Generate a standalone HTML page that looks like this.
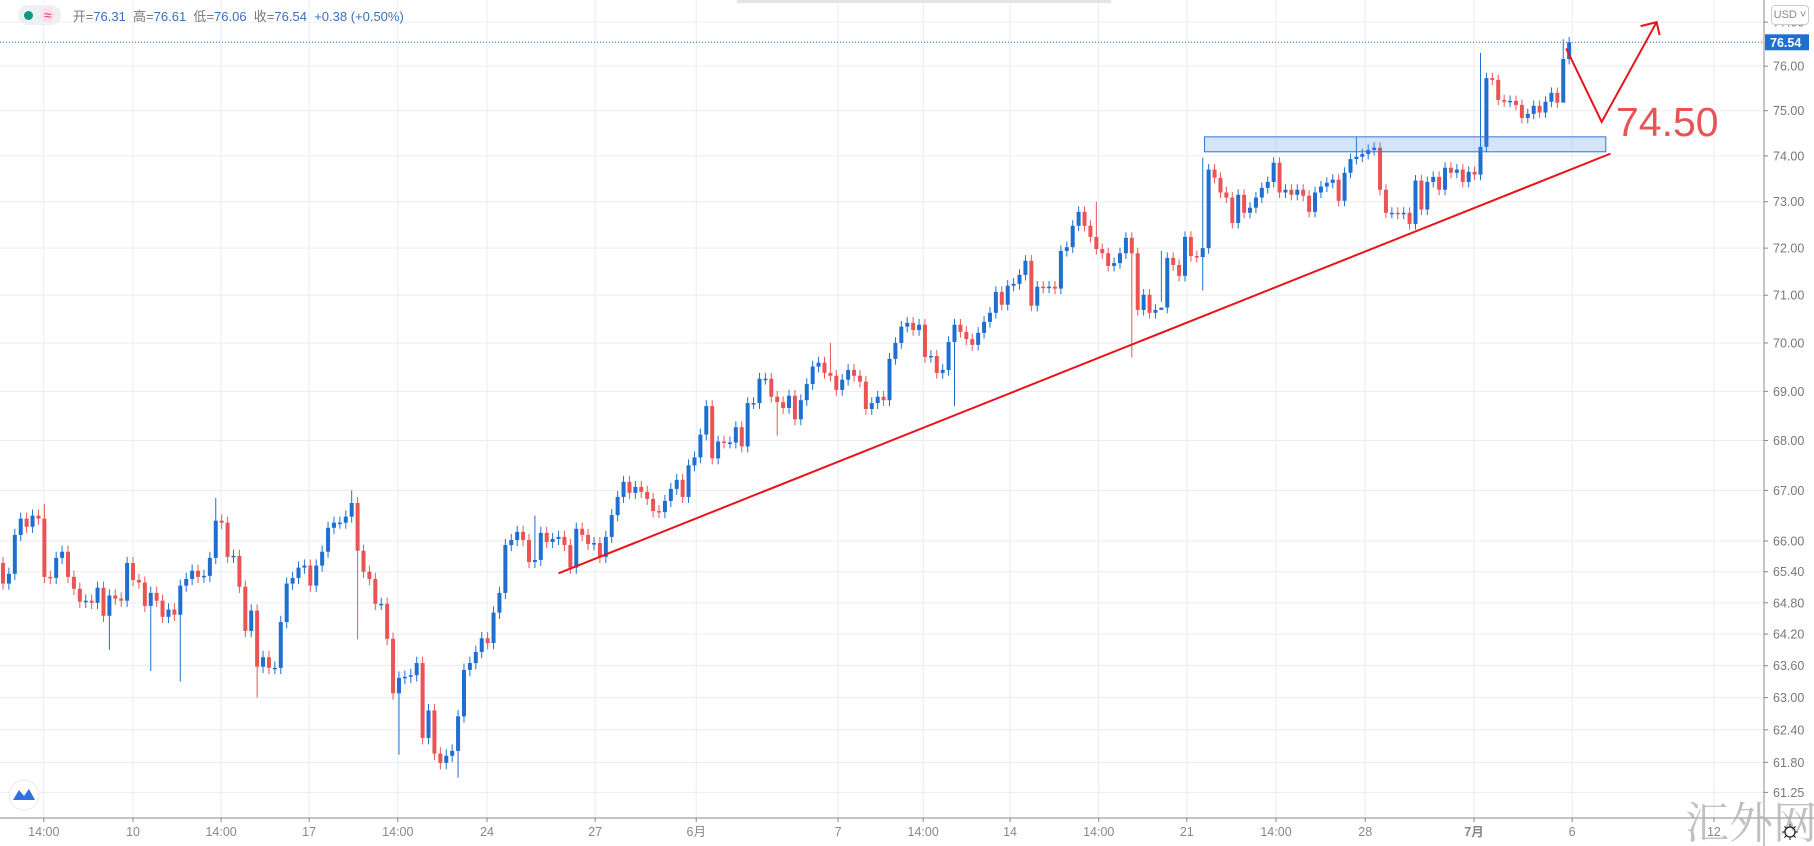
<!DOCTYPE html>
<html><head><meta charset="utf-8"><style>
html,body{margin:0;padding:0;background:#fff;width:1814px;height:846px;overflow:hidden;font-family:"Liberation Sans","Noto Sans CJK SC",sans-serif}
#wrap{position:relative;width:1814px;height:846px}
svg{position:absolute;left:0;top:0}
.hdr{position:absolute;left:18px;top:5px;height:20px;font-size:13px;color:#777;display:flex;align-items:center;white-space:nowrap}
.hdr .v{color:#3a6fb8}
.pill{display:inline-flex;align-items:center;background:#eef1f4;border-radius:10px;height:20px;padding:0 6px;margin-right:12px}
.usd{position:absolute;left:1771px;top:5px;width:36px;height:18px;border:1px solid #ccc;border-radius:4px;background:#fff;font-size:11px;color:#888;text-align:center;line-height:18px}
</style></head><body><div id="wrap">
<svg id="chart" width="1814" height="846"></svg>
<div class="hdr">
<span class="pill"><span style="display:inline-block;width:9px;height:9px;border-radius:50%;background:#089981;margin-right:8px"></span><span style="color:#e0306a;font-size:14px;background:#fde0ea;border-radius:8px;padding:0 3px">≈</span></span>
<span>开=<span class="v">76.31</span>&nbsp; 高=<span class="v">76.61</span>&nbsp; 低=<span class="v">76.06</span>&nbsp; 收=<span class="v">76.54</span>&nbsp; <span class="v">+0.38 (+0.50%)</span></span>
</div>
<div class="usd">USD ˅</div>
</div>
<script>
const closes=[65.17,65.36,66.12,66.44,66.28,66.50,66.44,65.30,65.28,65.67,65.79,65.30,65.07,64.82,64.84,64.80,65.09,64.55,64.94,64.88,64.84,65.57,65.24,65.19,64.74,64.99,64.84,64.53,64.67,64.57,65.13,65.26,65.42,65.30,65.32,65.67,66.40,66.36,65.69,65.71,65.11,64.26,64.65,63.58,63.76,63.56,63.56,64.43,65.17,65.28,65.48,65.52,65.13,65.52,65.79,66.26,66.36,66.36,66.48,66.75,65.81,65.40,65.26,64.78,64.78,64.11,63.08,
63.37,63.39,63.42,63.65,62.25,62.76,61.96,61.79,61.92,62.01,62.65,63.52,63.65,63.86,64.12,64.03,64.61,64.99,65.92,66.02,66.18,66.02,65.59,65.63,66.16,65.98,66.04,66.08,65.92,65.48,66.24,66.12,65.94,65.96,65.69,66.08,66.51,66.87,67.17,66.95,67.07,66.97,66.83,66.59,66.57,66.79,67.03,67.21,
66.87,67.50,67.66,68.12,68.70,67.64,67.98,67.96,67.96,68.27,67.88,68.76,68.76,69.26,69.26,68.89,68.78,68.66,68.91,68.43,68.82,69.15,69.51,69.59,69.38,69.32,69.03,69.24,69.44,69.32,69.20,68.64,68.76,68.89,68.82,69.67,70.00,70.34,70.42,70.27,70.38,69.71,69.73,69.38,69.44,70.02,70.38,70.23,70.08,69.96,70.21,
70.44,70.63,71.07,70.80,71.20,71.24,71.43,71.73,70.78,71.18,71.16,71.18,71.14,71.94,72.02,72.48,72.78,72.48,72.24,71.98,71.89,71.62,71.68,71.89,72.22,71.89,70.69,71.01,70.63,70.69,70.74,71.79,71.64,71.41,72.24,71.83,71.81,72.00,73.70,73.52,73.20,73.09,72.54,73.15,72.76,72.87,73.09,73.30,73.43,73.85,73.20,73.26,73.15,73.26,73.13,72.78,73.20,73.33,73.41,73.48,73.02,73.63,73.93,73.98,74.04,74.13,74.18,73.26,72.76,72.76,72.74,72.76,72.52,73.46,72.83,73.43,73.54,73.26,73.74,73.63,73.70,73.43,73.65,73.59,74.20,
75.73,75.69,75.24,75.20,75.22,75.13,74.84,74.93,75.11,74.96,75.20,75.40,75.18,76.16,76.54];
const firstOpen=65.57;
const highMarks={7:66.73,36:66.85,59:67.0,90:66.5,140:70.0,229:74.42,185:73.0,203:73.96,250:76.3,264:76.61};
const lowMarks={18:63.9,25:63.5,30:63.3,43:63.0,60:64.1,67:61.94,77:61.52,131:68.1,161:68.7,191:69.7,196:71.94,203:71.1,264:76.06};
const priceTicks=[77,76,75,74,73,72,71,70,69,68,67,66,65.4,64.8,64.2,63.6,63,62.4,61.8,61.25];
const timeTicks=[[6.9,"14:00"],[22,"10"],[36.9,"14:00"],[51.8,"17"],[66.8,"14:00"],[81.9,"24"],[100.2,"27"],[117.3,"6月"],[141.3,"7"],[155.7,"14:00"],[170.4,"14"],[185.4,"14:00"],[200.3,"21"],[215.4,"14:00"],[230.5,"28"],[248.9,"7月"],[265.5,"6"],[289.5,"12"]];
const lastPrice=76.54;
const zonePrices=[74.42,74.09];
const trendPts=[[94,65.37],[272,74.05]];
const zigzag=[[264.5,76.4],[270.5,74.75],[279.8,77.0]];
const labelPrice=74.50;

const svg=document.getElementById('chart');
const NS='http://www.w3.org/2000/svg';
const Y=p=>541-3366*Math.log(p/66);
const X=i=>3+i*5.91;
function mk(t,a,parent){const e=document.createElementNS(NS,t);for(const k in a)e.setAttribute(k,a[k]);(parent||svg).appendChild(e);return e;}
const AX=1764, BOT=818;
priceTicks.forEach(p=>{const g=mk('line',{x1:0,x2:AX,y1:Y(p),y2:Y(p),stroke:'#e9edf2','stroke-width':1});

});
timeTicks.forEach(t=>{const g=mk('line',{x1:X(t[0]),x2:X(t[0]),y1:0,y2:BOT,stroke:'#e9edf2','stroke-width':1});

});
const cg=mk('g',{});


closes.forEach((c,i)=>{
 const o=i===0?firstOpen:closes[i-1];
 const up=c>=o;const col=up?'#1f6fd0':'#ea5455';
 const hi=highMarks[i]!==undefined?highMarks[i]:Math.max(o,c)+0.12;
 const lo=lowMarks[i]!==undefined?lowMarks[i]:Math.min(o,c)-0.12;
 const x=X(i);
 const w=mk('line',{x1:x,x2:x,y1:Y(hi),y2:Y(lo),stroke:col,'stroke-width':1},cg);
 
 
 const yt=Y(Math.max(o,c)),yb=Y(Math.min(o,c));
 const b=mk('rect',{x:x-2,y:yt,width:4,height:Math.max(1.5,yb-yt),fill:col},cg);
 
 
});
const z=mk('rect',{x:X(203.3),y:Y(zonePrices[0]),width:X(271.2)-X(203.3),height:Y(zonePrices[1])-Y(zonePrices[0]),fill:'rgba(60,130,230,0.22)',stroke:'#3f72d0','stroke-width':1});


const tl=mk('line',{x1:X(trendPts[0][0]),y1:Y(trendPts[0][1]),x2:X(trendPts[1][0]),y2:Y(trendPts[1][1]),stroke:'#e8141c','stroke-width':2});


const zz=mk('polyline',{points:zigzag.map(p=>X(p[0])+','+Y(p[1])).join(' '),fill:'none',stroke:'#e8141c','stroke-width':2});


const tip=zigzag[2];const tx=X(tip[0]),ty=Y(tip[1]);
const ah=mk('polyline',{points:(tx-16)+','+(ty+4)+' '+tx+','+ty+' '+(tx+3)+','+(ty+13),fill:'none',stroke:'#e8141c','stroke-width':2});


const lt=mk('text',{x:1616,y:Y(labelPrice)+3,'font-size':41,fill:'#e85353','font-family':'Liberation Sans, sans-serif'});
lt.textContent='74.50';


const lp=mk('line',{x1:0,x2:AX,y1:Y(lastPrice),y2:Y(lastPrice),stroke:'#1f6fd0','stroke-width':1,'stroke-dasharray':'1,2'});


mk('rect',{x:AX,y:0,width:1814-AX,height:846,fill:'#fff'});
mk('rect',{x:0,y:BOT,width:AX,height:846-BOT,fill:'#fff'});
const ya=mk('line',{x1:AX,x2:AX,y1:0,y2:846,stroke:'#888','stroke-width':1});


const xa=mk('line',{x1:0,x2:1814,y1:BOT,y2:BOT,stroke:'#888','stroke-width':1});


priceTicks.forEach(p=>{
 mk('line',{x1:AX,x2:AX+4,y1:Y(p),y2:Y(p),stroke:'#888'});
 const t=mk('text',{x:AX+9,y:Y(p)+4.5,'font-size':12.5,fill:'#777'});
 t.textContent=p.toFixed(2);
 
 
});
timeTicks.forEach(tk=>{
 mk('line',{x1:X(tk[0]),x2:X(tk[0]),y1:BOT,y2:BOT+4,stroke:'#888'});
 const t=mk('text',{x:X(tk[0]),y:BOT+18,'font-size':12.5,fill:'#888','text-anchor':'middle','font-weight':tk[1]==='7月'?'bold':'normal'});
 t.textContent=tk[1];
 
 
});
const lb=mk('rect',{x:AX+1,y:Y(lastPrice)-8,width:44,height:16,fill:'#1f6fd0'});


const lbt=mk('text',{x:AX+6,y:Y(lastPrice)+4.5,'font-size':12.5,fill:'#fff','font-weight':'bold'});
lbt.textContent=lastPrice.toFixed(2);


const wm=mk('text',{x:1685,y:838,'font-size':44,fill:'#b0b0b0','font-family':'Noto Serif CJK SC, serif','fill-opacity':0.8});
wm.textContent='汇外网';


const gear=mk('g',{});


mk('circle',{cx:1790,cy:832,r:5,fill:'none',stroke:'#222','stroke-width':1.3},gear);
[0,45,90,135].forEach(a=>{const r=a*Math.PI/180;mk('line',{x1:1790+8*Math.cos(r),y1:832+8*Math.sin(r),x2:1790-8*Math.cos(r),y2:832-8*Math.sin(r),stroke:'#222','stroke-width':1,'stroke-dasharray':'2.5,11'},gear);});
const lg=mk('g',{});


mk('circle',{cx:24,cy:795,r:15,fill:'#fff',stroke:'#e6e9ee'},lg);
mk('path',{d:'M13 800 L19 790 L24 796 L29 789 L35 800 Z',fill:'#2f6fe0'},lg);
mk('rect',{x:737,y:0,width:374,height:3,fill:'#e4e4e4'});
</script></body></html>
